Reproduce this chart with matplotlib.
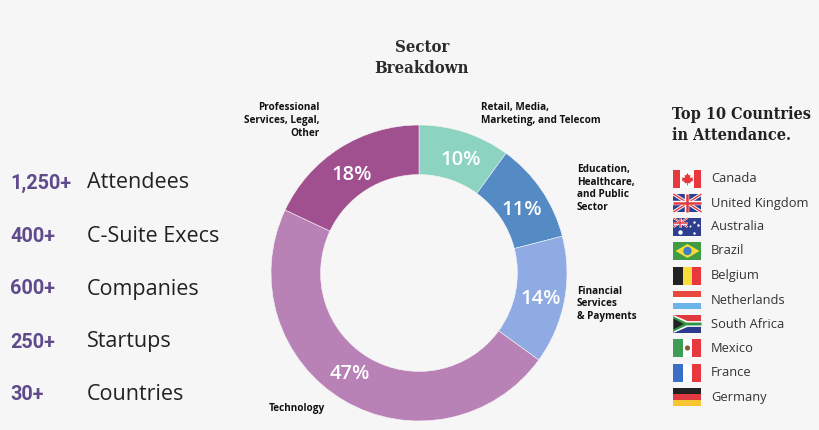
import matplotlib
matplotlib.use('Agg')
import matplotlib.pyplot as plt
from matplotlib.patches import Rectangle, Polygon, Circle

BG = '#f6f6f6'
W, H = 820, 430

sectors = ['Retail', 'Education', 'Financial', 'Technology', 'Professional']
shares = [10, 11, 14, 47, 18]
sector_colors = ['#8cd3c1', '#548bc4', '#90abe3', '#b882b6', '#a0508f']

stat_numbers = ['1,250+', '400+', '600+', '250+', '30+']
stat_names = ['Attendees', 'C-Suite Execs', 'Companies', 'Startups', 'Countries']

countries = ['Canada', 'United Kingdom', 'Australia', 'Brazil', 'Belgium',
             'Netherlands', 'South Africa', 'Mexico', 'France', 'Germany']

SANS = ['Open Sans', 'DejaVu Sans']
SLAB = ['DejaVu Serif']

fig = plt.figure(figsize=(W / 100, H / 100), dpi=100, facecolor=BG)

# donut in its own axes, pixel box 271-567 / 125-421
ax_pie = fig.add_axes([271 / W, 1 - 421 / H, 296 / W, 296 / H])
wedges, _, pct_texts = ax_pie.pie(
    shares, colors=sector_colors, startangle=90, counterclock=False, radius=1,
    autopct='%d%%', pctdistance=0.83,
    wedgeprops={'width': 0.335, 'edgecolor': BG, 'linewidth': 0.4},
    textprops={'color': 'white', 'fontsize': 14.5, 'fontweight': 'semibold', 'family': SANS})
ax_pie.set_xlim(-1, 1)
ax_pie.set_ylim(-1, 1)

# the percent labels sit a bit off the ring centre in the original (pixels)
pct_nudge = [(4, -4), (1, -6), (1, -3), (-7, 5), (-1, -6)]
for t, (dx, dy) in zip(pct_texts, pct_nudge):
    px, py = t.get_position()
    t.set_position((px + dx / 148, py + dy / 148))

# overlay in pixel coords for the text and the flags
ax = fig.add_axes([0, 0, 1, 1], facecolor='none')
ax.set_xlim(0, W)
ax.set_ylim(H, 0)
ax.axis('off')

# left column
stat_rows = [183, 236, 289, 342, 395]
for y, num, name in zip(stat_rows, stat_numbers, stat_names):
    ax.text(10, y, num, color='#5f4b8b', fontsize=14.3, fontweight='bold', family=['Roboto', 'DejaVu Sans'],
            va='center')
    ax.text(87, y, name, color='#222222', fontsize=15.5, family=SANS, va='center')

# title
ax.text(422, 58, 'Sector\nBreakdown', color='#2b2b2b', fontsize=12, fontweight='bold',
        family=SLAB, stretch='condensed', ha='center', va='center', linespacing=1.3)

# sector labels
lab = dict(color='#111111', fontsize=7.2, fontweight='bold', family=SANS, va='center', linespacing=1.2)
ax.text(320, 120.5, 'Professional\nServices, Legal,\nOther', ha='right', **lab)
ax.text(481, 114, 'Retail, Media,\nMarketing, and Telecom', ha='left', **lab)
ax.text(577, 188.5, 'Education,\nHealthcare,\nand Public\nSector', ha='left', **lab)
ax.text(577, 304, 'Financial\nServices\n& Payments', ha='left', **lab)
ax.text(269, 408, 'Technology', ha='left', **lab)

# right column
ax.text(672, 125, 'Top 10 Countries\nin Attendance.', color='#222222', fontsize=11.6, fontweight='bold',
        family=SLAB, stretch='condensed', ha='left', va='center', linespacing=1.35)


def bands_v(x, y, w, h, cols):
    for i, c in enumerate(cols):
        ax.add_patch(Rectangle((x + i * w / len(cols), y), w / len(cols), h, fc=c, lw=0))


def bands_h(x, y, w, h, cols):
    for i, c in enumerate(cols):
        ax.add_patch(Rectangle((x, y + i * h / len(cols)), w, h / len(cols), fc=c, lw=0))


def union_jack(x, y, w, h, lw=1.0):
    ax.add_patch(Rectangle((x, y), w, h, fc='#2f3f8f', lw=0))
    for a, b in [((x, y), (x + w, y + h)), ((x, y + h), (x + w, y))]:
        ax.plot([a[0], b[0]], [a[1], b[1]], color='white', lw=lw * 2.4, solid_capstyle='butt')
        ax.plot([a[0], b[0]], [a[1], b[1]], color='#e0393e', lw=lw * 1.0, solid_capstyle='butt')
    ax.plot([x + w / 2] * 2, [y, y + h], color='white', lw=lw * 3.2, solid_capstyle='butt')
    ax.plot([x, x + w], [y + h / 2] * 2, color='white', lw=lw * 3.2, solid_capstyle='butt')
    ax.plot([x + w / 2] * 2, [y, y + h], color='#e0393e', lw=lw * 1.8, solid_capstyle='butt')
    ax.plot([x, x + w], [y + h / 2] * 2, color='#e0393e', lw=lw * 1.8, solid_capstyle='butt')


def draw_flag(name, x, y, w, h):
    if name == 'Canada':
        bands_v(x, y, w, h, ['#e8383d', 'white', 'white', '#e8383d'])
        cx, cy = x + w / 2, y + h / 2
        # rough maple leaf
        leaf = [(0, -6), (1.5, -3.5), (3, -4.2), (2.5, -1), (5.5, -1.8), (5, 0), (6, 1), (2.5, 3.5), (3, 4.5),
                (0.4, 4), (0.4, 6.5), (-0.4, 6.5), (-0.4, 4), (-3, 4.5), (-2.5, 3.5), (-6, 1), (-5, 0),
                (-5.5, -1.8), (-2.5, -1), (-3, -4.2), (-1.5, -3.5)]
        ax.add_patch(Polygon([(cx + a, cy + b) for a, b in leaf], fc='#e8383d', lw=0))
    elif name == 'United Kingdom':
        union_jack(x, y, w, h)
    elif name == 'Australia':
        ax.add_patch(Rectangle((x, y), w, h, fc='#2f3f8f', lw=0))
        union_jack(x, y, w * 0.5, h * 0.5, lw=0.6)
        for fx, fy, s in [(0.25, 0.75, 3.2), (0.72, 0.2, 1.8), (0.88, 0.4, 1.8), (0.72, 0.82, 1.8), (0.6, 0.45, 1.4)]:
            ax.plot(x + fx * w, y + fy * h, 'o', ms=s, color='white', mew=0)
    elif name == 'Brazil':
        ax.add_patch(Rectangle((x, y), w, h, fc='#3f9c45', lw=0))
        ax.add_patch(Polygon([(x + 2, y + h / 2), (x + w / 2, y + 2), (x + w - 2, y + h / 2), (x + w / 2, y + h - 2)],
                             fc='#f5dc3c', lw=0))
        ax.add_patch(Circle((x + w / 2, y + h / 2), 4.2, fc='#3d7fc4', lw=0))
    elif name == 'Belgium':
        bands_v(x, y, w, h, ['#222222', '#f7dc3e', '#e8383d'])
    elif name == 'Netherlands':
        bands_h(x, y, w, h, ['#e8483d', 'white', '#6cb4e8'])
    elif name == 'South Africa':
        bands_h(x, y, w, h, ['#e0393e', '#e0393e', '#2a3a8c', '#2a3a8c'])
        ax.add_patch(Polygon([(x, y), (x + w * 0.5, y + h * 0.34), (x + w, y + h * 0.34), (x + w, y + h * 0.66),
                              (x + w * 0.5, y + h * 0.66), (x, y + h)], fc='white', lw=0))
        ax.add_patch(Polygon([(x, y + h * 0.08), (x + w * 0.46, y + h * 0.42), (x + w, y + h * 0.42), (x + w, y + h * 0.58),
                              (x + w * 0.46, y + h * 0.58), (x, y + h * 0.92)], fc='#2f9345', lw=0))
        ax.add_patch(Polygon([(x, y + h * 0.2), (x + w * 0.36, y + h / 2), (x, y + h * 0.8)], fc='#222222', lw=0))
    elif name == 'Mexico':
        bands_v(x, y, w, h, ['#3f9c55', 'white', '#e8383d'])
        ax.add_patch(Circle((x + w / 2, y + h / 2), 2.6, fc='#8a5a3a', lw=0))
    elif name == 'France':
        bands_v(x, y, w, h, ['#3a6fc8', 'white', '#e8383d'])
    elif name == 'Germany':
        bands_h(x, y, w, h, ['#222222', '#e0393e', '#f7c531'])


flag_rows = [179, 203, 227, 251, 276, 300, 324, 348, 373, 397]
for y, name in zip(flag_rows, countries):
    draw_flag(name, 673.5, y - 9, 28, 18)
    ax.text(711, y, name, color='#333333', fontsize=9.3, family=SANS, va='center')

fig.savefig('out.png', dpi=100, facecolor=BG)
